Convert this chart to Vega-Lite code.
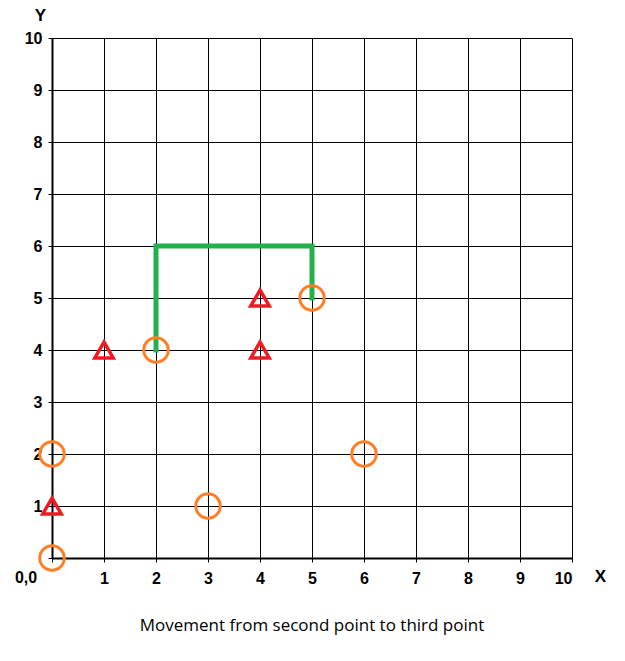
{
  "$schema": "https://vega.github.io/schema/vega-lite/v6.json",
  "width": 520,
  "height": 520,
  "autosize": "none",
  "padding": {"left": 52, "top": 38, "right": 53, "bottom": 103},
  "background": "white",
  "title": {
    "text": "Movement from second point to third point",
    "orient": "bottom",
    "offset": 32,
    "fontSize": 17,
    "fontWeight": "normal",
    "font": "Open Sans",
    "color": "black"
  },
  "datasets": {
    "path": [
      {"x": 2, "y": 4, "step": 1},
      {"x": 2, "y": 6, "step": 2},
      {"x": 5, "y": 6, "step": 3},
      {"x": 5, "y": 5, "step": 4}
    ],
    "circles": [
      {"x": 0, "y": 0}, {"x": 0, "y": 2}, {"x": 3, "y": 1},
      {"x": 6, "y": 2}, {"x": 2, "y": 4}, {"x": 5, "y": 5}
    ],
    "triangles": [
      {"x": 0, "y": 1}, {"x": 1, "y": 4}, {"x": 4, "y": 4}, {"x": 4, "y": 5}
    ],
    "origin": [{"x": 0, "y": 0, "label": "0,0"}]
  },
  "layer": [
    {
      "data": {"name": "path"},
      "mark": {"type": "line", "color": "#22b14c", "strokeWidth": 5, "strokeCap": "square", "strokeJoin": "miter"},
      "encoding": {
        "x": {"field": "x", "type": "quantitative", "scale": {"domain": [0, 10], "nice": false},
          "axis": {"values": [0,1,2,3,4,5,6,7,8,9,10], "title": "X", "titleX": 548, "titleY": 10, "titleFontSize": 17, "titleFontWeight": "bold",
            "labelExpr": "datum.value == 0 ? '' : datum.label", "labelFontWeight": "bold", "labelFontSize": 16, "labelColor": "black",
            "grid": true, "gridColor": "black", "gridOpacity": 1, "gridWidth": 1, "domainColor": "black", "domainWidth": 2,
            "tickColor": "black", "tickSize": 4, "labelPadding": 8}},
        "y": {"field": "y", "type": "quantitative", "scale": {"domain": [0, 10], "nice": false},
          "axis": {"values": [0,1,2,3,4,5,6,7,8,9,10], "title": "Y", "titleAngle": 0, "titleX": -12, "titleY": -14, "titleFontSize": 17, "titleFontWeight": "bold",
            "labelExpr": "datum.value == 0 ? '' : datum.label", "labelFontWeight": "bold", "labelFontSize": 16, "labelColor": "black",
            "grid": true, "gridColor": "black", "gridOpacity": 1, "gridWidth": 1, "domainColor": "black", "domainWidth": 2,
            "tickColor": "black", "tickSize": 4, "labelPadding": 6}},
        "order": {"field": "step"}
      }
    },
    {
      "data": {"name": "circles"},
      "mark": {"type": "point", "shape": "circle", "filled": false, "size": 600, "stroke": "#ff7f27", "strokeWidth": 3, "opacity": 1, "clip": false},
      "encoding": {"x": {"field": "x", "type": "quantitative"}, "y": {"field": "y", "type": "quantitative"}}
    },
    {
      "data": {"name": "triangles"},
      "mark": {"type": "point", "shape": "triangle-up", "filled": false, "size": 340, "stroke": "#ed1c24", "strokeWidth": 3.5, "opacity": 1, "clip": false},
      "encoding": {"x": {"field": "x", "type": "quantitative"}, "y": {"field": "y", "type": "quantitative"}}
    },
    {
      "data": {"name": "origin"},
      "mark": {"type": "text", "fontWeight": "bold", "fontSize": 16, "dx": -26, "dy": 20, "color": "black"},
      "encoding": {"x": {"field": "x", "type": "quantitative"}, "y": {"field": "y", "type": "quantitative"}, "text": {"field": "label"}}
    }
  ],
  "config": {"view": {"stroke": null}, "font": "Liberation Sans"}
}
